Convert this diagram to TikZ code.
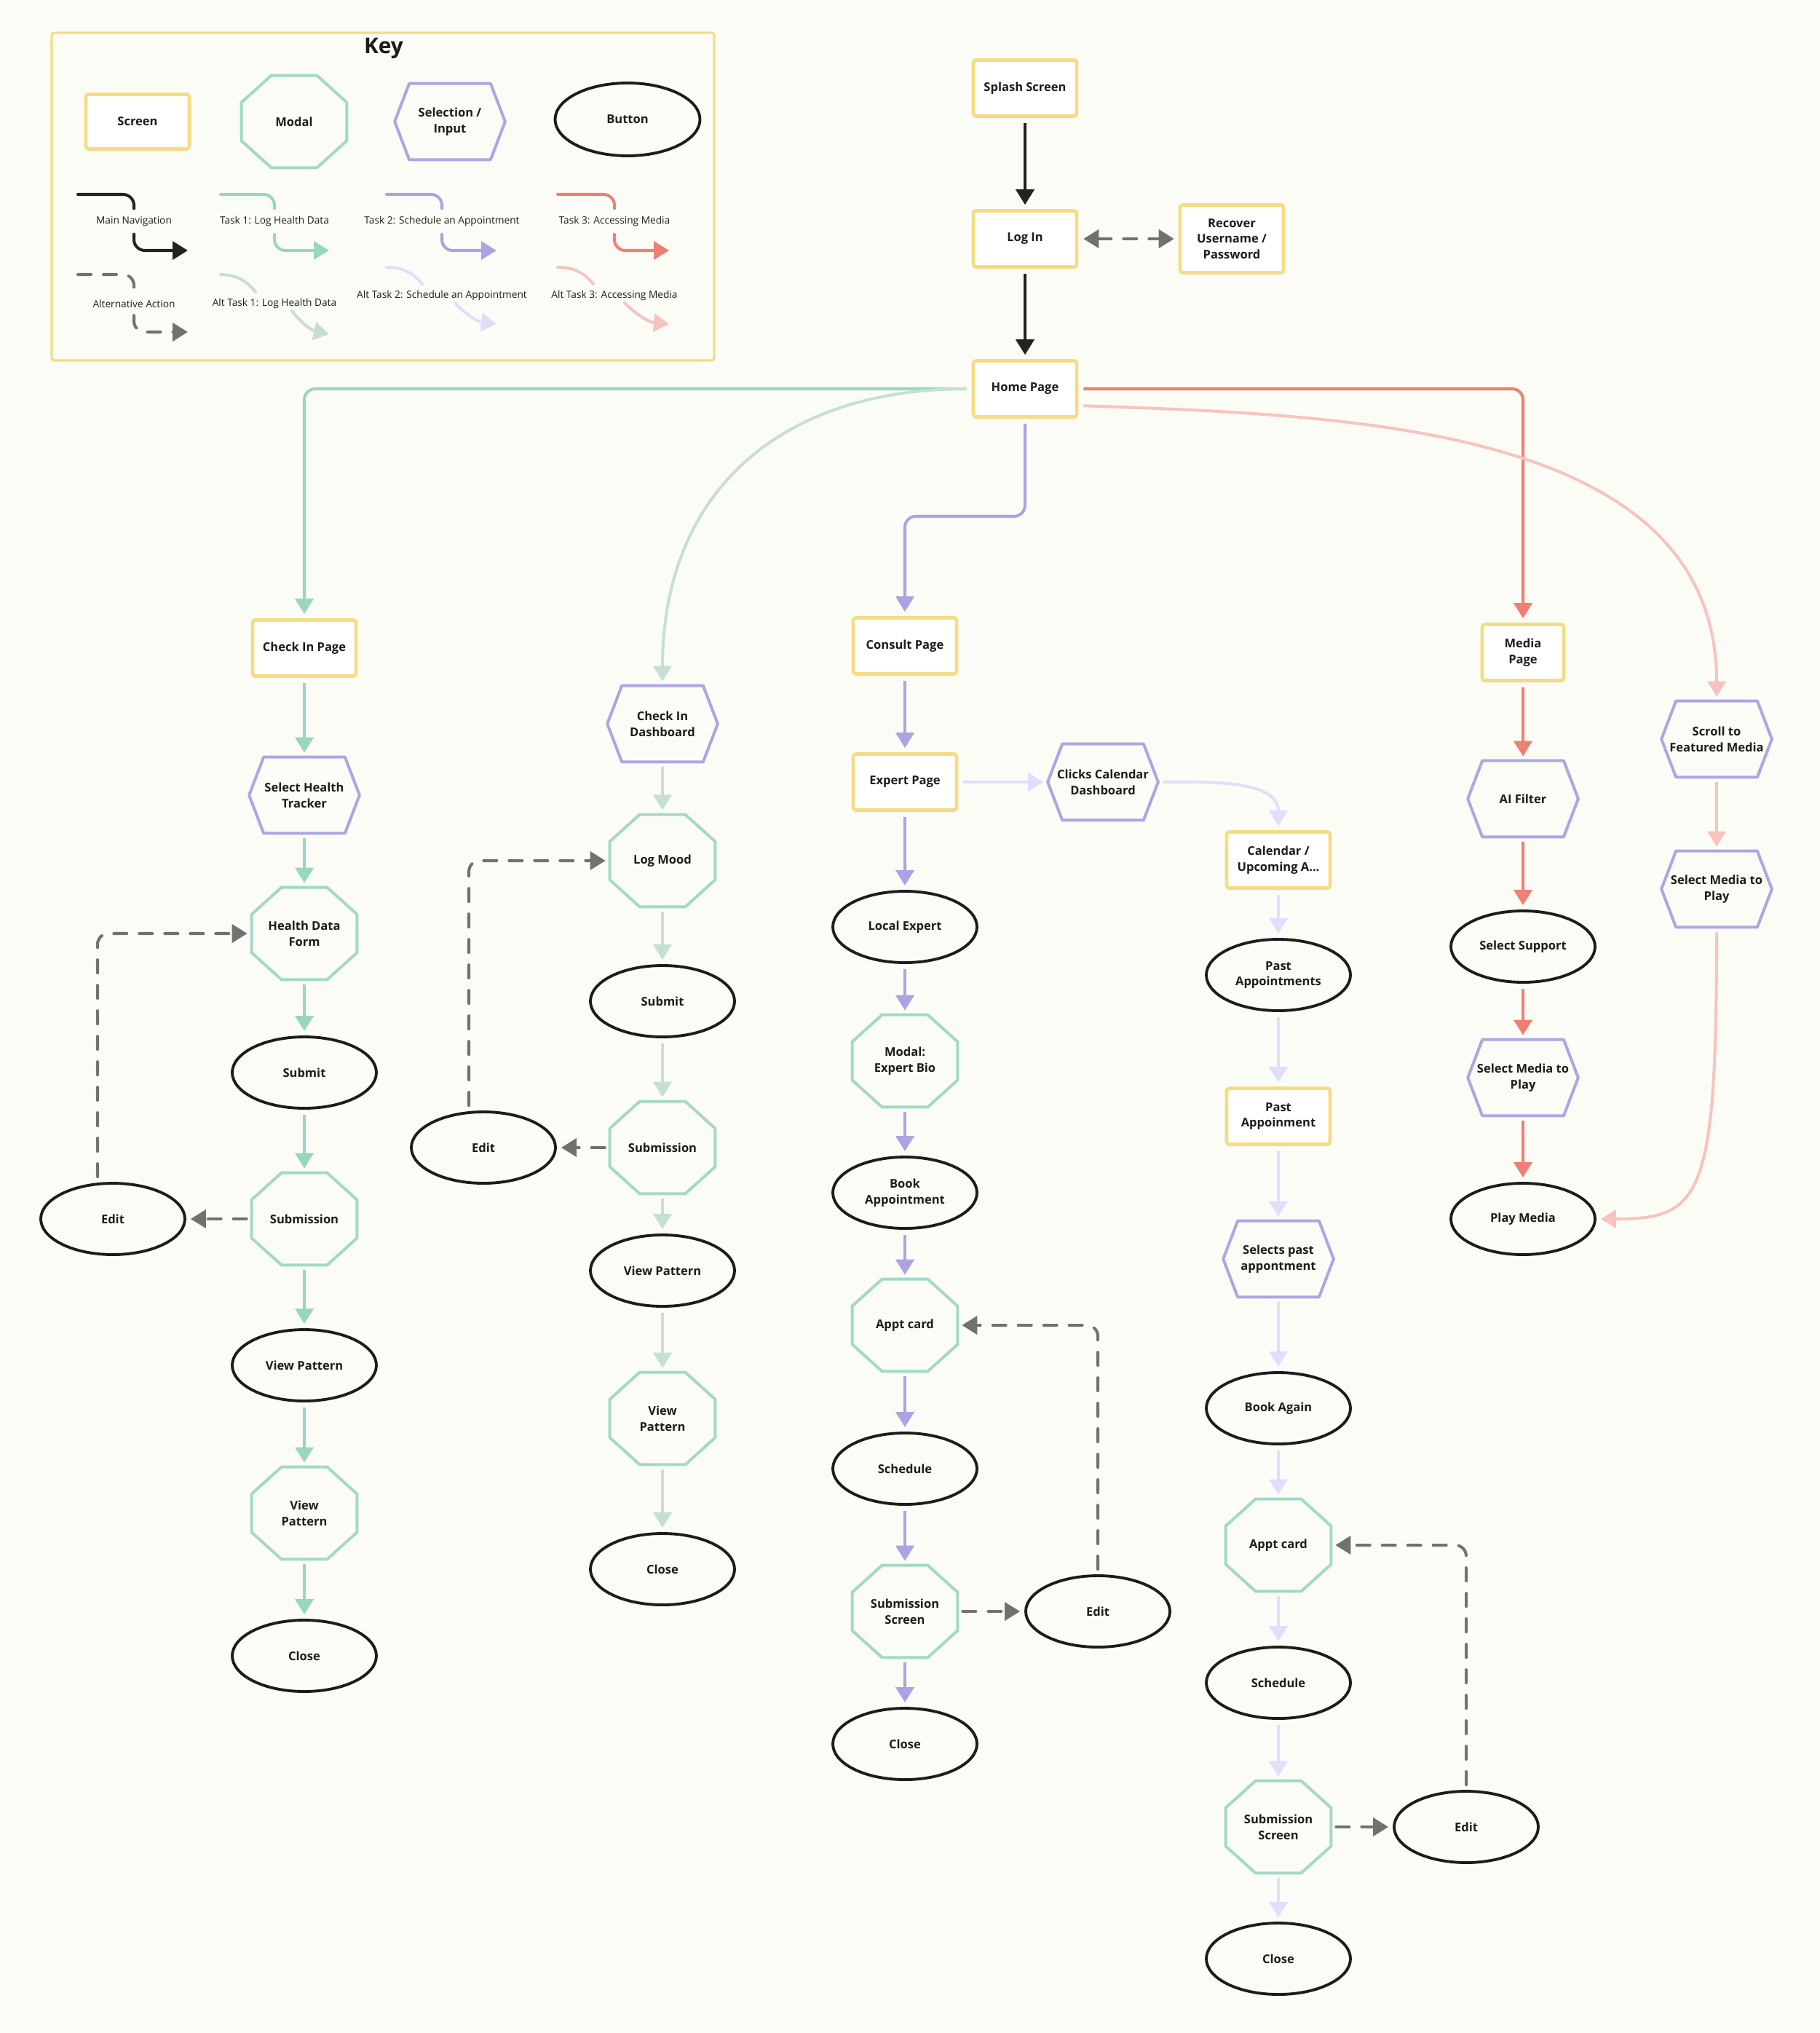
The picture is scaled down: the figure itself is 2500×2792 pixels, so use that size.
\documentclass[tikz,border=0pt]{standalone}
\usepackage{fontspec}
\setmainfont{Open Sans}
\usetikzlibrary{arrows.meta,shapes.geometric,shadows}

\definecolor{bgc}{HTML}{FCFCF6}
\definecolor{scrc}{HTML}{F5DC84}
\definecolor{modc}{HTML}{A2D9C8}
\definecolor{selc}{HTML}{AFA5E5}
\definecolor{btnc}{HTML}{1C1C1C}
\definecolor{navc}{HTML}{222222}
\definecolor{t1c}{HTML}{98D6C1}
\definecolor{t2c}{HTML}{AEA2E4}
\definecolor{t3c}{HTML}{EF7F73}
\definecolor{altc}{HTML}{717171}
\definecolor{a1c}{HTML}{C6DFD4}
\definecolor{a2c}{HTML}{E2DDFB}
\definecolor{a3c}{HTML}{F8C3BE}

% one pixel of the layout
\newcommand{\ux}{0.02cm}

\tikzset{
  lbl/.style={font=\bfseries\fontsize{9.4}{12.4}\selectfont, align=center, text=btnc},
  screenbox/.style={lbl, draw=scrc, line width=2.6pt, fill=white, rounded corners=2pt,
    minimum width=142*\ux, minimum height=77*\ux, inner sep=0pt,
    drop shadow={opacity=0.07, shadow xshift=0pt, shadow yshift=-2pt}},
  modalbox/.style={lbl, minimum width=144*\ux, minimum height=126*\ux, inner sep=0pt},
  modalline/.style={draw=modc, line width=2.3pt, line join=round},
  selbox/.style={lbl, minimum width=151*\ux, minimum height=104*\ux, inner sep=0pt},
  selline/.style={draw=selc, line width=2.3pt, line join=round},
  btnbox/.style={lbl, ellipse, draw=btnc, line width=2.2pt, minimum width=198*\ux,
    minimum height=98*\ux, inner sep=0pt},
  keytxt/.style={font=\fontsize{7.8}{9}\selectfont, text=btnc, inner ysep=6pt},
  flow/.style={line width=2.3pt, ->, shorten >=0.12cm, shorten <=0.14cm, rounded corners=0.3cm},
  navflow/.style={flow, draw=navc},
  altflow/.style={flow, draw=altc, line cap=round, dash pattern=on 0.36cm off 0.34cm},
  taskone/.style={flow, draw=t1c},
  tasktwo/.style={flow, draw=t2c},
  taskthree/.style={flow, draw=t3c},
  altone/.style={flow, draw=a1c},
  alttwo/.style={flow, draw=a2c},
  altthree/.style={flow, draw=a3c},
  keyline/.style={line width=2.3pt, rounded corners=0.3cm, line cap=round},
}

% octagon (modal): name, x, y, text
\newcommand{\modalnode}[4]{%
  \node[modalbox] (#1) at (#2,#3) {#4};
  \draw[modalline] ([xshift=41*\ux]#1.north west) -- ([xshift=-41*\ux]#1.north east)
    -- ([yshift=-37*\ux]#1.north east) -- ([yshift=37*\ux]#1.south east)
    -- ([xshift=-41*\ux]#1.south east) -- ([xshift=41*\ux]#1.south west)
    -- ([yshift=37*\ux]#1.south west) -- ([yshift=-37*\ux]#1.north west) -- cycle;}

% hexagon (selection / input): name, x, y, text
\newcommand{\selnode}[4]{%
  \node[selbox] (#1) at (#2,#3) {#4};
  \draw[selline] ([xshift=20*\ux]#1.north west) -- ([xshift=-20*\ux]#1.north east)
    -- (#1.east) -- ([xshift=-20*\ux]#1.south east)
    -- ([xshift=20*\ux]#1.south west) -- (#1.west) -- cycle;}

\begin{document}
\begin{tikzpicture}[x=0.02cm, y=-0.02cm, >={Triangle[length=0.42cm,width=0.5cm]}]
  \fill[bgc] (0,0) rectangle (2500,2792);
  \useasboundingbox (0,0) rectangle (2500,2792);

  % key
  \draw[draw=scrc, line width=1.8pt, rounded corners=2pt] (71,45) rectangle (981,495);
  \node[font=\bfseries\fontsize{17}{20}\selectfont, text=btnc] (keytitle) at (527,66) {Key};
  \node[screenbox, minimum height=75*\ux] (kscreen) at (189,167) {Screen};
  \modalnode{kmodal}{404}{167}{Modal}
  \selnode{ksel}{618}{167}{Selection /\\Input}
  \node[btnbox, minimum width=199*\ux, minimum height=100*\ux] (kbtn) at (862,164) {Button};

  \node[keytxt] (knav) at (184,304) {Main Navigation};
  \draw[keyline, draw=navc] (107,267) -| (knav.north);
  \draw[keyline, draw=navc, ->] (knav.south) |- (258,344);
  \node[keytxt] (kt1) at (377,304) {Task 1: Log Health Data};
  \draw[keyline, draw=t1c] (303,267) -| (kt1.north);
  \draw[keyline, draw=t1c, ->] (kt1.south) |- (452,344);
  \node[keytxt] (kt2) at (607,304) {Task 2: Schedule an Appointment};
  \draw[keyline, draw=t2c] (531,267) -| (kt2.north);
  \draw[keyline, draw=t2c, ->] (kt2.south) |- (682,344);
  \node[keytxt] (kt3) at (844,304) {Task 3: Accessing Media};
  \draw[keyline, draw=t3c] (766,267) -| (kt3.north);
  \draw[keyline, draw=t3c, ->] (kt3.south) |- (919,344);

  \node[keytxt] (kalt) at (184,417) {Alternative Action};
  \draw[keyline, draw=altc, dash pattern=on 0.36cm off 0.34cm] (107,377) -| (kalt.north);
  \draw[keyline, draw=altc, dash pattern=on 0.36cm off 0.34cm, ->] (kalt.south) |- (258,456);
  \node[keytxt] (ka1) at (377,417) {Alt Task 1: Log Health Data};
  \draw[keyline, draw=a1c] (303,377) to[bend left=25] (351,401);
  \draw[keyline, draw=a1c, ->] (401,427) to[bend right=20] (452,459);
  \node[keytxt] (ka2) at (607,406) {Alt Task 2: Schedule an Appointment};
  \draw[keyline, draw=a2c] (531,367) to[bend left=25] (580,390);
  \draw[keyline, draw=a2c, ->] (625,416) to[bend right=20] (682,445);
  \node[keytxt] (ka3) at (844,406) {Alt Task 3: Accessing Media};
  \draw[keyline, draw=a3c] (766,367) to[bend left=25] (815,390);
  \draw[keyline, draw=a3c, ->] (858,416) to[bend right=20] (919,445);

  % entry
  \node[screenbox] (splash) at (1408,121) {Splash Screen};
  \node[screenbox] (login) at (1408,328) {Log In};
  \node[screenbox, minimum height=93*\ux] (recover) at (1692,328) {Recover\\Username /\\Password};
  \node[screenbox] (home) at (1408,534) {Home Page};

  % task 1: check in
  \node[screenbox] (checkin) at (418,890) {Check In Page};
  \selnode{selht}{418}{1092}{Select Health\\Tracker}
  \modalnode{hdform}{418}{1282}{Health Data\\Form}
  \node[btnbox] (submita) at (418,1473) {Submit};
  \modalnode{subma}{418}{1674}{Submission}
  \node[btnbox] (edita) at (155,1674) {Edit};
  \node[btnbox] (viewa) at (418,1875) {View Pattern};
  \modalnode{viewma}{418}{2078}{View\\Pattern}
  \node[btnbox] (closea) at (418,2274) {Close};

  % alt task 1: dashboard
  \selnode{dash}{910}{994}{Check In\\Dashboard}
  \modalnode{logmood}{910}{1182}{Log Mood}
  \node[btnbox] (submitb) at (910,1375) {Submit};
  \modalnode{submb}{910}{1576}{Submission}
  \node[btnbox] (editb) at (664,1576) {Edit};
  \node[btnbox] (viewb) at (910,1745) {View Pattern};
  \modalnode{viewmb}{910}{1948}{View\\Pattern}
  \node[btnbox] (closeb) at (910,2155) {Close};

  % task 2: consult
  \node[screenbox] (consult) at (1243,887) {Consult Page};
  \node[screenbox] (expert) at (1243,1074) {Expert Page};
  \selnode{clickscal}{1515}{1074}{Clicks Calendar\\Dashboard}
  \node[btnbox] (localexp) at (1243,1273) {Local Expert};
  \modalnode{bio}{1243}{1457}{Modal:\\Expert Bio}
  \node[btnbox] (book) at (1243,1638) {Book\\Appointment};
  \modalnode{apptc}{1243}{1820}{Appt card}
  \node[btnbox] (schedc) at (1243,2017) {Schedule};
  \modalnode{submc}{1243}{2213}{Submission\\Screen}
  \node[btnbox] (editc) at (1508,2213) {Edit};
  \node[btnbox] (closec) at (1243,2395) {Close};

  % alt task 2: calendar
  \node[screenbox] (calendar) at (1756,1181) {Calendar /\\Upcoming A...};
  \node[btnbox] (pastappts) at (1756,1339) {Past\\Appointments};
  \node[screenbox] (pastappt) at (1756,1533) {Past\\Appoinment};
  \selnode{selpast}{1756}{1729}{Selects past\\appontment}
  \node[btnbox] (bookagain) at (1756,1934) {Book Again};
  \modalnode{apptd}{1756}{2122}{Appt card}
  \node[btnbox] (schedd) at (1756,2311) {Schedule};
  \modalnode{submd}{1756}{2509}{Submission\\Screen}
  \node[btnbox] (editd) at (2014,2509) {Edit};
  \node[btnbox] (closed) at (1756,2690) {Close};

  % task 3: media
  \node[screenbox, minimum width=112*\ux] (media) at (2092,896) {Media\\Page};
  \selnode{aifilter}{2092}{1097}{AI Filter}
  \node[btnbox] (support) at (2092,1300) {Select Support};
  \selnode{selmediae}{2092}{1480}{Select Media to\\Play}
  \node[btnbox] (play) at (2092,1674) {Play Media};

  % alt task 3: featured
  \selnode{scroll}{2358}{1015}{Scroll to\\Featured Media}
  \selnode{selmediaf}{2358}{1221}{Select Media to\\Play}

  % main navigation
  \draw[navflow] (splash) -- (login);
  \draw[navflow] (login) -- (home);
  \draw[altflow, <->] (login) -- (recover);

  % from the home page
  \draw[taskone] (home.west) -| (checkin.north);
  \draw[altone] (home.west) to[out=180, in=90, looseness=1.15] (dash.north);
  \coordinate (consultbend) at (1243,709);
  \draw[tasktwo] (home.south) |- (consultbend) -- (consult.north);
  \draw[taskthree] (home.east) -| (media.north);
  \draw[altthree] ([yshift=-23*\ux]home.east) to[out=-2, in=90] (scroll.north);

  % columns
  \foreach \a/\b in {checkin/selht, selht/hdform, hdform/submita, submita/subma,
      subma/viewa, viewa/viewma, viewma/closea}
    \draw[taskone] (\a) -- (\b);
  \foreach \a/\b in {dash/logmood, logmood/submitb, submitb/submb, submb/viewb,
      viewb/viewmb, viewmb/closeb}
    \draw[altone] (\a) -- (\b);
  \foreach \a/\b in {consult/expert, expert/localexp, localexp/bio, bio/book,
      book/apptc, apptc/schedc, schedc/submc, submc/closec}
    \draw[tasktwo] (\a) -- (\b);
  \foreach \a/\b in {expert/clickscal, calendar/pastappts, pastappts/pastappt,
      pastappt/selpast, selpast/bookagain, bookagain/apptd, apptd/schedd,
      schedd/submd, submd/closed}
    \draw[alttwo] (\a) -- (\b);
  \draw[alttwo] (clickscal.east) to[out=0, in=90] (calendar.north);
  \foreach \a/\b in {media/aifilter, aifilter/support, support/selmediae, selmediae/play}
    \draw[taskthree] (\a) -- (\b);
  \draw[altthree] (scroll) -- (selmediaf);
  \draw[altthree] (selmediaf.south) to[out=-90, in=0, out looseness=2.2, in looseness=0.85] (play.east);

  % edit loops
  \draw[altflow] (subma) -- (edita);
  \draw[altflow] ([xshift=-21*\ux]edita.north) |- (hdform.west);
  \draw[altflow] (submb) -- (editb);
  \draw[altflow] ([xshift=-20*\ux]editb.north) |- (logmood.west);
  \draw[altflow] (submc) -- (editc);
  \draw[altflow] (editc.north) |- (apptc.east);
  \draw[altflow] (submd) -- (editd);
  \draw[altflow] (editd.north) |- (apptd.east);
\end{tikzpicture}
\end{document}
